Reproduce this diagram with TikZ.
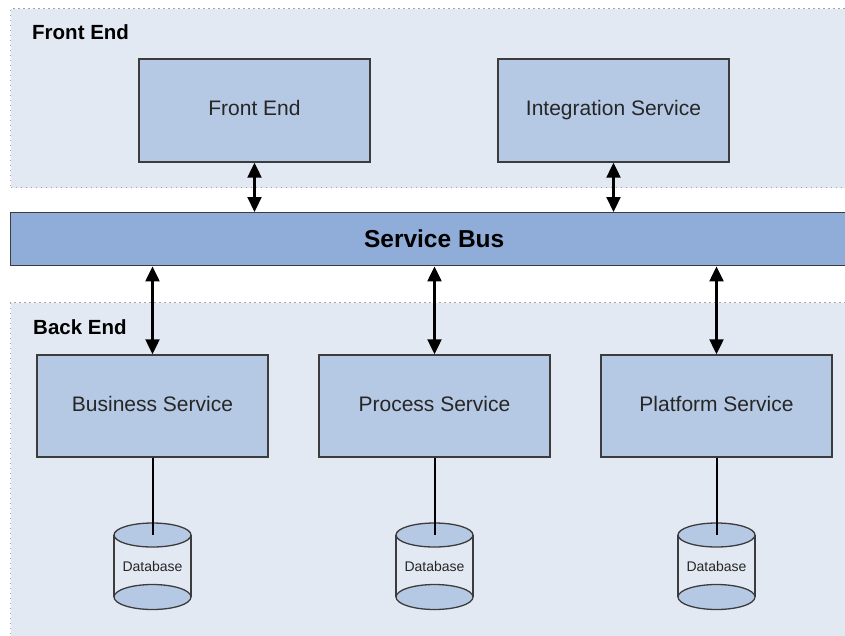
\documentclass[tikz,border=0pt]{standalone}
\usepackage{fontspec}
\setmainfont{Liberation Sans}
\usetikzlibrary{arrows.meta,calc}
\definecolor{regionfill}{HTML}{E3E9F3}
\definecolor{boxfill}{HTML}{B6C9E4}
\definecolor{busfill}{HTML}{8FADD8}
\definecolor{edgegray}{HTML}{3C3C3C}
\definecolor{dotgray}{HTML}{A4A4A4}
\definecolor{textgray}{HTML}{262626}
\begin{document}
\begin{tikzpicture}[x=1pt,y=-1pt,
  region/.style={draw=dotgray, fill=regionfill, line width=1.3pt,
    dash pattern=on 1.4pt off 3.6pt, anchor=north west, inner sep=0pt},
  grouplabel/.style={anchor=west, inner sep=0pt, font=\fontsize{20.5}{24}\selectfont\bfseries},
  svcbox/.style={draw=edgegray, fill=boxfill, line width=1.4pt,
    minimum width=231pt, minimum height=103pt, inner sep=0pt,
    text height=15pt, text depth=4.4pt,
    font=\fontsize{21}{25}\selectfont, text=textgray},
  busbar/.style={draw=edgegray, fill=busfill, line width=1.4pt, anchor=north west,
    minimum width=847pt, minimum height=53pt, inner sep=0pt,
    font=\fontsize{24.5}{28}\selectfont\bfseries},
  link/.style={line width=2.2pt, {Triangle[length=15pt,width=14pt]}-{Triangle[length=15pt,width=14pt]}},
  dblink/.style={line width=2pt},
  dbshape/.style={draw=edgegray, line width=1.3pt},
  dblabel/.style={inner sep=0pt, font=\fontsize{14}{16}\selectfont, text=textgray}
]
\useasboundingbox (0,0) rectangle (845,635);
\clip (0,0) rectangle (845,635);
\fill[white] (0,0) rectangle (845,635);

% layers
\node[region, minimum width=850pt, minimum height=179pt] (frontreg) at (10,8) {};
\node[region, minimum width=850pt, minimum height=360pt] (backreg) at (10,302) {};
\node[grouplabel] (frontlbl) at (32,32) {Front End};
\node[grouplabel] (backlbl) at (33,327) {Back End};

% service bus
\node[busbar] (bus) at (10,212) {Service Bus};

% front end services
\node[svcbox] (fe) at (254.5,110.5) {Front End};
\node[svcbox] (is) at (613.5,110.5) {Integration Service};

% back end services
\node[svcbox, minimum height=102pt] (bs) at (152.5,406) {Business Service};
\node[svcbox, minimum height=102pt] (ps) at (434.5,406) {Process Service};
\node[svcbox, minimum height=102pt] (pl) at (716.5,406) {Platform Service};

% bus connections
\draw[link] (fe.south) -- (fe.south |- bus.north);
\draw[link] (is.south) -- (is.south |- bus.north);
\draw[link] (bs.north |- bus.south) -- (bs.north);
\draw[link] (ps.north |- bus.south) -- (ps.north);
\draw[link] (pl.north |- bus.south) -- (pl.north);

% databases
\foreach \nm/\cx in {dba/152.5, dbb/434.5, dbc/716.5} {
  \coordinate (\nm top) at (\cx,535);
  \coordinate (\nm bot) at (\cx,597);
  \fill[regionfill] ($(\nm top)+(-38.5,0)$) rectangle ($(\nm bot)+(38.5,0)$);
  \draw[dbshape] ($(\nm top)+(-38.5,0)$) -- ($(\nm bot)+(-38.5,0)$);
  \draw[dbshape] ($(\nm top)+(38.5,0)$) -- ($(\nm bot)+(38.5,0)$);
  \draw[dbshape, fill=boxfill] (\nm bot) ellipse [x radius=38.5pt, y radius=12.5pt];
  \draw[dbshape, fill=boxfill] (\nm top) ellipse [x radius=38.5pt, y radius=12pt];
  \node[dblabel] (\nm) at (\cx,566) {Database};
}
\draw[dblink] (bs.south) -- (dbatop);
\draw[dblink] (ps.south) -- (dbbtop);
\draw[dblink] (pl.south) -- (dbctop);
\end{tikzpicture}
\end{document}
